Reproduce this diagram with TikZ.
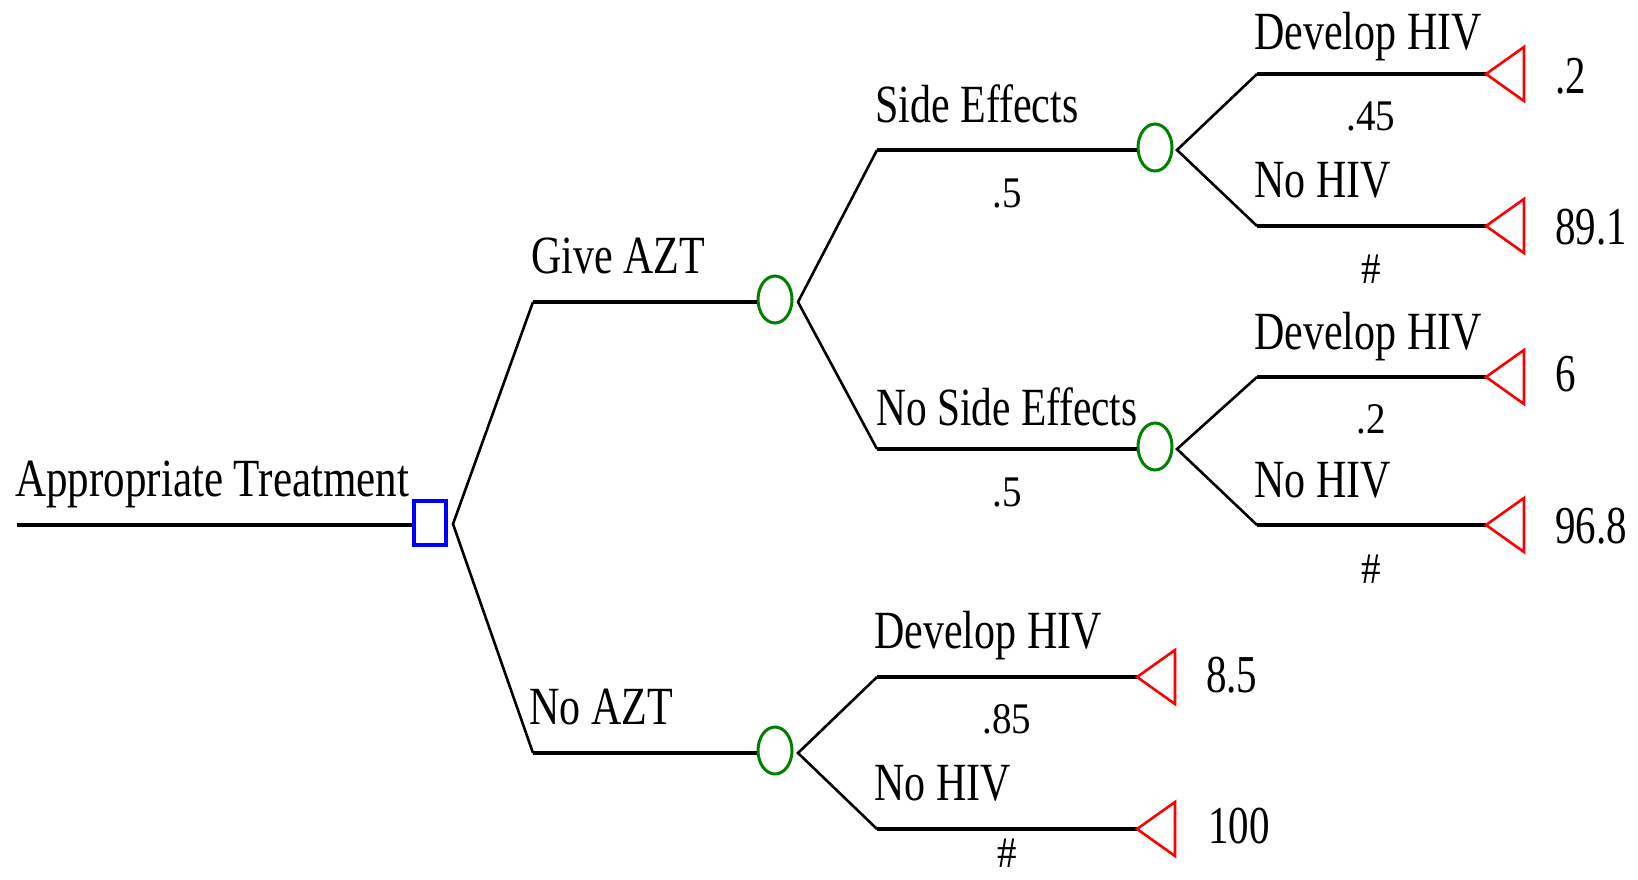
\documentclass[tikz,border=0pt]{standalone}
\usepackage{fontspec}
\usepackage{graphicx}
\setmainfont{Liberation Serif}
\usetikzlibrary{shapes.geometric}
\definecolor{chancegreen}{RGB}{0,128,0}
\definecolor{decblue}{RGB}{0,0,255}
\definecolor{termred}{RGB}{255,0,0}
\newcommand{\lbltext}[2][1]{\scalebox{#1}[1.28]{#2}}
\newcommand{\probtext}[1]{\scalebox{1}[1.12]{#1}}
\newcommand{\valtext}[1]{\scalebox{1}[1.3]{#1}}
\begin{document}
\begin{tikzpicture}[x=1pt,y=-1pt,
  hline/.style={line width=4pt, black},
  dline/.style={line width=2.6pt, black},
  chance/.style={draw=chancegreen, ellipse, line width=3pt, minimum width=34pt, minimum height=47pt, inner sep=0pt},
  decision/.style={draw=decblue, rectangle, line width=4pt, minimum width=32pt, minimum height=44pt, inner sep=0pt},
  term/.style={draw=termred, line width=2.6pt, line join=miter},
  lbl/.style={anchor=base west, inner sep=0pt, font=\fontsize{42}{48}\selectfont},
  prob/.style={anchor=base, inner sep=0pt, font=\fontsize{39}{44}\selectfont},
  val/.style={anchor=base west, inner sep=0pt, font=\fontsize{41}{48}\selectfont},
]
\useasboundingbox (0,0) rectangle (1638,879);

% decision node and root line
\node[decision] (dec) at (430,523) {};
\coordinate (root) at (17,525);
\draw[hline] (root) -- (root -| dec.west);

% chance nodes
\node[chance] (c1) at (775,299.5) {};
\node[chance] (c2) at (1155,147.5) {};
\node[chance] (c3) at (1155,446.5) {};
\node[chance] (c4) at (775,750.5) {};

% fork points
\coordinate (f0) at (453,524);
\coordinate (f1) at (798,302);
\coordinate (f2) at (1177,150);
\coordinate (f3) at (1177,449);
\coordinate (f4) at (798,753);

% branch starts
\coordinate (a1) at (533,302);
\coordinate (a2) at (533,753);
\coordinate (s1) at (877,150);
\coordinate (s2) at (877,449);
\coordinate (h1) at (1257,74);
\coordinate (h2) at (1257,226);
\coordinate (h3) at (1257,377);
\coordinate (h4) at (1257,525);
\coordinate (b1) at (877,677);
\coordinate (b2) at (877,829);

% terminal tips
\coordinate (t1) at (1486,74);
\coordinate (t2) at (1486,226);
\coordinate (t3) at (1486,377);
\coordinate (t4) at (1486,525);
\coordinate (t5) at (1137,677);
\coordinate (t6) at (1137,829);

% diagonals
\draw[dline] (a1) -- (f0) -- (a2);
\draw[dline] (s1) -- (f1) -- (s2);
\draw[dline] (h1) -- (f2) -- (h2);
\draw[dline] (h3) -- (f3) -- (h4);
\draw[dline] (b1) -- (f4) -- (b2);

% horizontals
\draw[hline] (a1) -- (a1 -| c1.west);
\draw[hline] (a2) -- (a2 -| c4.west);
\draw[hline] (s1) -- (s1 -| c2.west);
\draw[hline] (s2) -- (s2 -| c3.west);
\draw[hline] (h1) -- (t1);
\draw[hline] (h2) -- (t2);
\draw[hline] (h3) -- (t3);
\draw[hline] (h4) -- (t4);
\draw[hline] (b1) -- (t5);
\draw[hline] (b2) -- (t6);

% terminal triangles
\foreach \t in {t1,t2,t3,t4,t5,t6}{
  \draw[term] (\t) -- ++(38,-27) -- ++(0,54) -- cycle;
}

% branch labels
\node[lbl] (lroot) at (15,496) {\lbltext[1.025]{Appropriate Treatment}};
\node[lbl] (lgive) at (531,273) {\lbltext{Give AZT}};
\node[lbl] (lno) at (529,724) {\lbltext{No AZT}};
\node[lbl] (lse) at (875,122) {\lbltext{Side Effects}};
\node[lbl] (lnse) at (876,425) {\lbltext[0.985]{No Side Effects}};
\node[lbl] (ld1) at (1254,49) {\lbltext{Develop HIV}};
\node[lbl] (ln1) at (1254,197) {\lbltext{No HIV}};
\node[lbl] (ld2) at (1254,349) {\lbltext{Develop HIV}};
\node[lbl] (ln2) at (1254,497) {\lbltext{No HIV}};
\node[lbl] (ld3) at (874,648) {\lbltext{Develop HIV}};
\node[lbl] (ln3) at (874,800) {\lbltext{No HIV}};

% probabilities
\node[prob] (p1) at (1007,207) {\probtext{.5}};
\node[prob] (p2) at (1007,506) {\probtext{.5}};
\node[prob] (p3) at (1371,130) {\probtext{.45}};
\node[prob] (p4) at (1371,283) {\probtext{\#}};
\node[prob] (p5) at (1371,433) {\probtext{.2}};
\node[prob] (p6) at (1371,583) {\probtext{\#}};
\node[prob] (p7) at (1007,733) {\probtext{.85}};
\node[prob] (p8) at (1007,867) {\probtext{\#}};

% payoffs
\node[val] (v1) at (1555,93) {\valtext{.2}};
\node[val] (v2) at (1555,244) {\valtext{89.1}};
\node[val] (v3) at (1555,391) {\valtext{6}};
\node[val] (v4) at (1555,543) {\valtext{96.8}};
\node[val] (v5) at (1206,692) {\valtext{8.5}};
\node[val] (v6) at (1208,843) {\valtext{100}};
\end{tikzpicture}
\end{document}
